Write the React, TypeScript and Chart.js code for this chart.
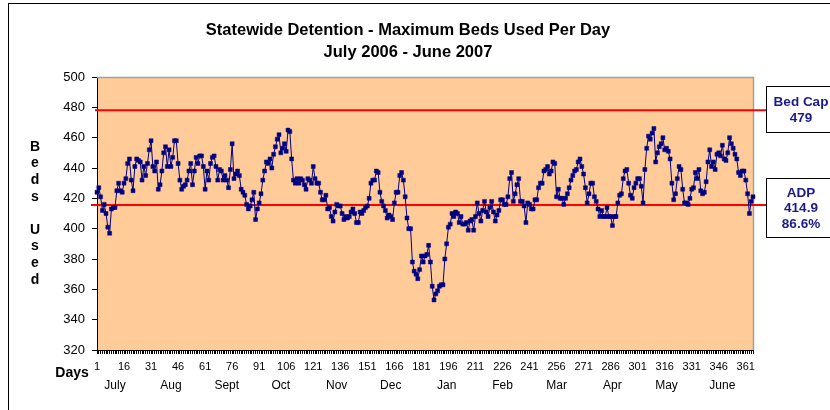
import React, { useEffect, useRef } from 'react';
import { Chart, registerables } from 'chart.js';

Chart.register(...registerables);

// ---- data (max beds used per day, July 2006 - June 2007) ----
const july = [424, 427, 421, 412, 416, 410, 401, 397, 413, 414, 414, 425, 430, 425, 424, 430, 433, 443, 446, 432, 425, 441, 446, 445, 444, 432, 441, 435, 443, 452, 458];
const aug = [441, 438, 444, 426, 429, 438, 450, 454, 441, 452, 441, 447, 458, 458, 443, 432, 426, 428, 429, 432, 438, 443, 429, 438, 447, 443, 448, 448, 441, 426, 438];
const sept = [432, 443, 447, 448, 441, 432, 439, 438, 432, 435, 432, 427, 439, 456, 433, 436, 438, 435, 426, 424, 422, 416, 413, 415, 419, 424, 406, 413, 417, 423];
const oct = [432, 438, 444, 443, 446, 440, 449, 454, 459, 462, 450, 453, 456, 451, 465, 464, 446, 432, 430, 433, 430, 433, 432, 429, 426, 433, 432, 430, 441, 433, 430];
const nov = [430, 424, 419, 419, 422, 413, 414, 408, 405, 411, 416, 415, 415, 410, 406, 408, 407, 408, 411, 413, 410, 404, 404, 411, 410, 412, 414, 415, 420, 430];
const dec = [432, 432, 438, 437, 424, 418, 415, 412, 407, 409, 408, 406, 417, 424, 424, 435, 437, 432, 421, 407, 400, 400, 378, 372, 370, 367, 373, 382, 378, 382, 383];
const jan = [389, 378, 362, 353, 357, 359, 362, 363, 363, 380, 390, 401, 403, 410, 408, 411, 410, 404, 408, 403, 403, 404, 399, 405, 406, 399, 408, 417, 410, 405, 412];
const feb = [418, 411, 408, 414, 418, 411, 405, 409, 412, 419, 419, 416, 416, 421, 433, 437, 418, 423, 429, 433, 418, 418, 415, 404, 417, 416, 413, 413];
const mar = [419, 419, 427, 430, 430, 438, 439, 441, 436, 438, 444, 443, 421, 426, 420, 420, 416, 420, 423, 427, 432, 435, 438, 439, 444, 446, 441, 436, 427, 417, 423];
const apr = [430, 430, 421, 418, 413, 408, 412, 408, 408, 414, 408, 408, 402, 408, 408, 417, 422, 423, 433, 438, 439, 430, 422, 420, 427, 430, 433, 433, 428, 417];
const may = [439, 453, 461, 459, 463, 466, 444, 450, 454, 456, 460, 452, 453, 451, 446, 430, 419, 423, 433, 441, 439, 426, 417, 417, 416, 420, 426, 427, 437, 433, 439];
const june = [425, 423, 424, 431, 444, 452, 441, 444, 439, 449, 450, 448, 455, 446, 445, 450, 460, 456, 453, 449, 446, 437, 435, 438, 438, 432, 423, 410, 418, 421];

const monthNames = ['July', 'Aug', 'Sept', 'Oct', 'Nov', 'Dec', 'Jan', 'Feb', 'Mar', 'Apr', 'May', 'June'];
const months = [july, aug, sept, oct, nov, dec, jan, feb, mar, apr, may, june];
const beds = months.flat();
const dayLabels = beds.map((_, i) => String(i + 1));
const tickEvery = 15;

const yMin = 320;
const yMax = 500;
const yStep = 20;

const bedCapLine = 478;
const bedCapText = ['Bed Cap', '479'];
const adpLine = 415.6;
const adpText = ['ADP', '414.9', '86.6%'];

const titleLines = ['Statewide Detention - Maximum Beds Used Per Day', 'July 2006 - June 2007'];
const yTitle = 'Beds Used';
const xTitle = 'Days';

// ---- styling ----
const W = 830;
const H = 410;
const FONT = '"Liberation Sans", Arial, Helvetica, sans-serif';
const NAVY = '#000080';
const TEXT_NAVY = '#1a1a8c';
const PEACH = '#FFCC99';

const decor = {
  id: 'decor',
  beforeDraw(chart: any) {
    const { ctx, chartArea: a } = chart;
    ctx.save();
    ctx.fillStyle = '#ffffff';
    ctx.fillRect(0, 0, W, H);
    ctx.fillStyle = PEACH;
    ctx.fillRect(a.left, a.top, a.right - a.left, a.bottom - a.top);
    ctx.restore();
  },
  beforeDatasetsDraw(chart: any) {
    const { ctx, chartArea: a, scales } = chart;
    ctx.save();
    ctx.strokeStyle = '#a0a0a0';
    ctx.lineWidth = 1.5;
    ctx.beginPath();
    ctx.moveTo(a.left, a.top + 0.5);
    ctx.lineTo(a.right + 0.5, a.top + 0.5);
    ctx.lineTo(a.right + 0.5, a.bottom);
    ctx.stroke();
    ctx.strokeStyle = '#ff0000';
    ctx.lineWidth = 2;
    const boxLeft = 766;
    const yc = scales.y.getPixelForValue(bedCapLine);
    ctx.beginPath();
    ctx.moveTo(a.left - 2, yc);
    ctx.lineTo(boxLeft, yc);
    ctx.stroke();
    const ya = scales.y.getPixelForValue(adpLine);
    ctx.beginPath();
    ctx.moveTo(a.left - 6, ya);
    ctx.lineTo(boxLeft, ya);
    ctx.stroke();
    ctx.restore();
  },
  afterDraw(chart: any) {
    const { ctx, scales } = chart;
    ctx.save();
    ctx.strokeStyle = '#000';
    ctx.lineWidth = 1;
    ctx.strokeRect(8.5, 3.5, 900, 500);

    ctx.fillStyle = '#000';
    ctx.textAlign = 'center';
    ctx.textBaseline = 'middle';
    ctx.font = `bold 16.5px ${FONT}`;
    ctx.fillText(titleLines[0], 408, 30);
    ctx.fillText(titleLines[1], 408, 52);

    ctx.font = `bold 14px ${FONT}`;
    yTitle.split('').forEach((ch, i) => {
      if (ch !== ' ') ctx.fillText(ch, 35, 147 + i * 16.6);
    });

    ctx.fillText(xTitle, 72, 373);

    ctx.font = `12px ${FONT}`;
    let start = 0;
    months.forEach((m, i) => {
      const x = scales.x.getPixelForValue(start + (i >= 8 ? 12 : 10));
      ctx.fillText(monthNames[i], x, 386);
      start += m.length;
    });

    const bx = 766.5;
    ctx.fillStyle = '#fff';
    ctx.fillRect(bx, 86.5, 90, 46);
    ctx.strokeRect(bx, 86.5, 90, 46);
    ctx.fillRect(bx, 178.5, 90, 59);
    ctx.strokeRect(bx, 178.5, 90, 59);
    ctx.fillStyle = TEXT_NAVY;
    ctx.font = `bold 13.5px ${FONT}`;
    ctx.fillText(bedCapText[0], 801, 102);
    ctx.fillText(bedCapText[1], 801, 118);
    ctx.fillText(adpText[0], 801, 193);
    ctx.fillText(adpText[1], 801, 208.5);
    ctx.fillText(adpText[2], 801, 224);
    ctx.restore();
  },
};

export default function App() {
  const ref = useRef<HTMLCanvasElement | null>(null);
  useEffect(() => {
    if (!ref.current) return;
    const chart = new Chart(ref.current, {
      type: 'line',
      data: {
        labels: dayLabels,
        datasets: [
          {
            data: beds,
            borderColor: NAVY,
            borderWidth: 1,
            pointStyle: 'rect',
            pointRadius: 2.8,
            pointBackgroundColor: NAVY,
            pointBorderColor: NAVY,
            pointBorderWidth: 0.5,
            tension: 0,
          },
        ],
      },
      options: {
        responsive: false,
        animation: false,
        devicePixelRatio: 1,
        layout: { padding: { left: 0, right: 77, top: 77, bottom: 0 } },
        plugins: {
          legend: { display: false },
          tooltip: { enabled: false },
          title: { display: false },
        },
        scales: {
          x: {
            type: 'category',
            offset: false,
            afterFit: (s: any) => {
              s.height = 60;
            },
            grid: { drawOnChartArea: false, drawTicks: true, tickLength: 4, color: '#000', lineWidth: 1 },
            border: { display: true, color: '#000', width: 1 },
            ticks: {
              autoSkip: false,
              maxRotation: 0,
              minRotation: 0,
              padding: 6,
              color: '#000',
              font: { family: FONT, size: 11 },
              callback: (_v: any, i: number) => (i % tickEvery === 0 ? dayLabels[i] : ''),
            },
          },
          y: {
            min: yMin,
            max: yMax,
            afterFit: (s: any) => {
              s.width = 97;
            },
            grid: { drawOnChartArea: false, drawTicks: true, tickLength: 5, color: '#000', lineWidth: 1 },
            border: { display: true, color: '#000', width: 1 },
            ticks: {
              stepSize: yStep,
              padding: 7,
              color: '#000',
              font: { family: FONT, size: 13 },
            },
          },
        },
      },
      plugins: [decor],
    });
    return () => chart.destroy();
  }, []);

  return (
    <div style={{ position: 'fixed', left: 0, top: 0, width: W, height: H, background: '#fff' }}>
      <canvas ref={ref} width={W} height={H} style={{ display: 'block', width: W, height: H }} />
    </div>
  );
}
